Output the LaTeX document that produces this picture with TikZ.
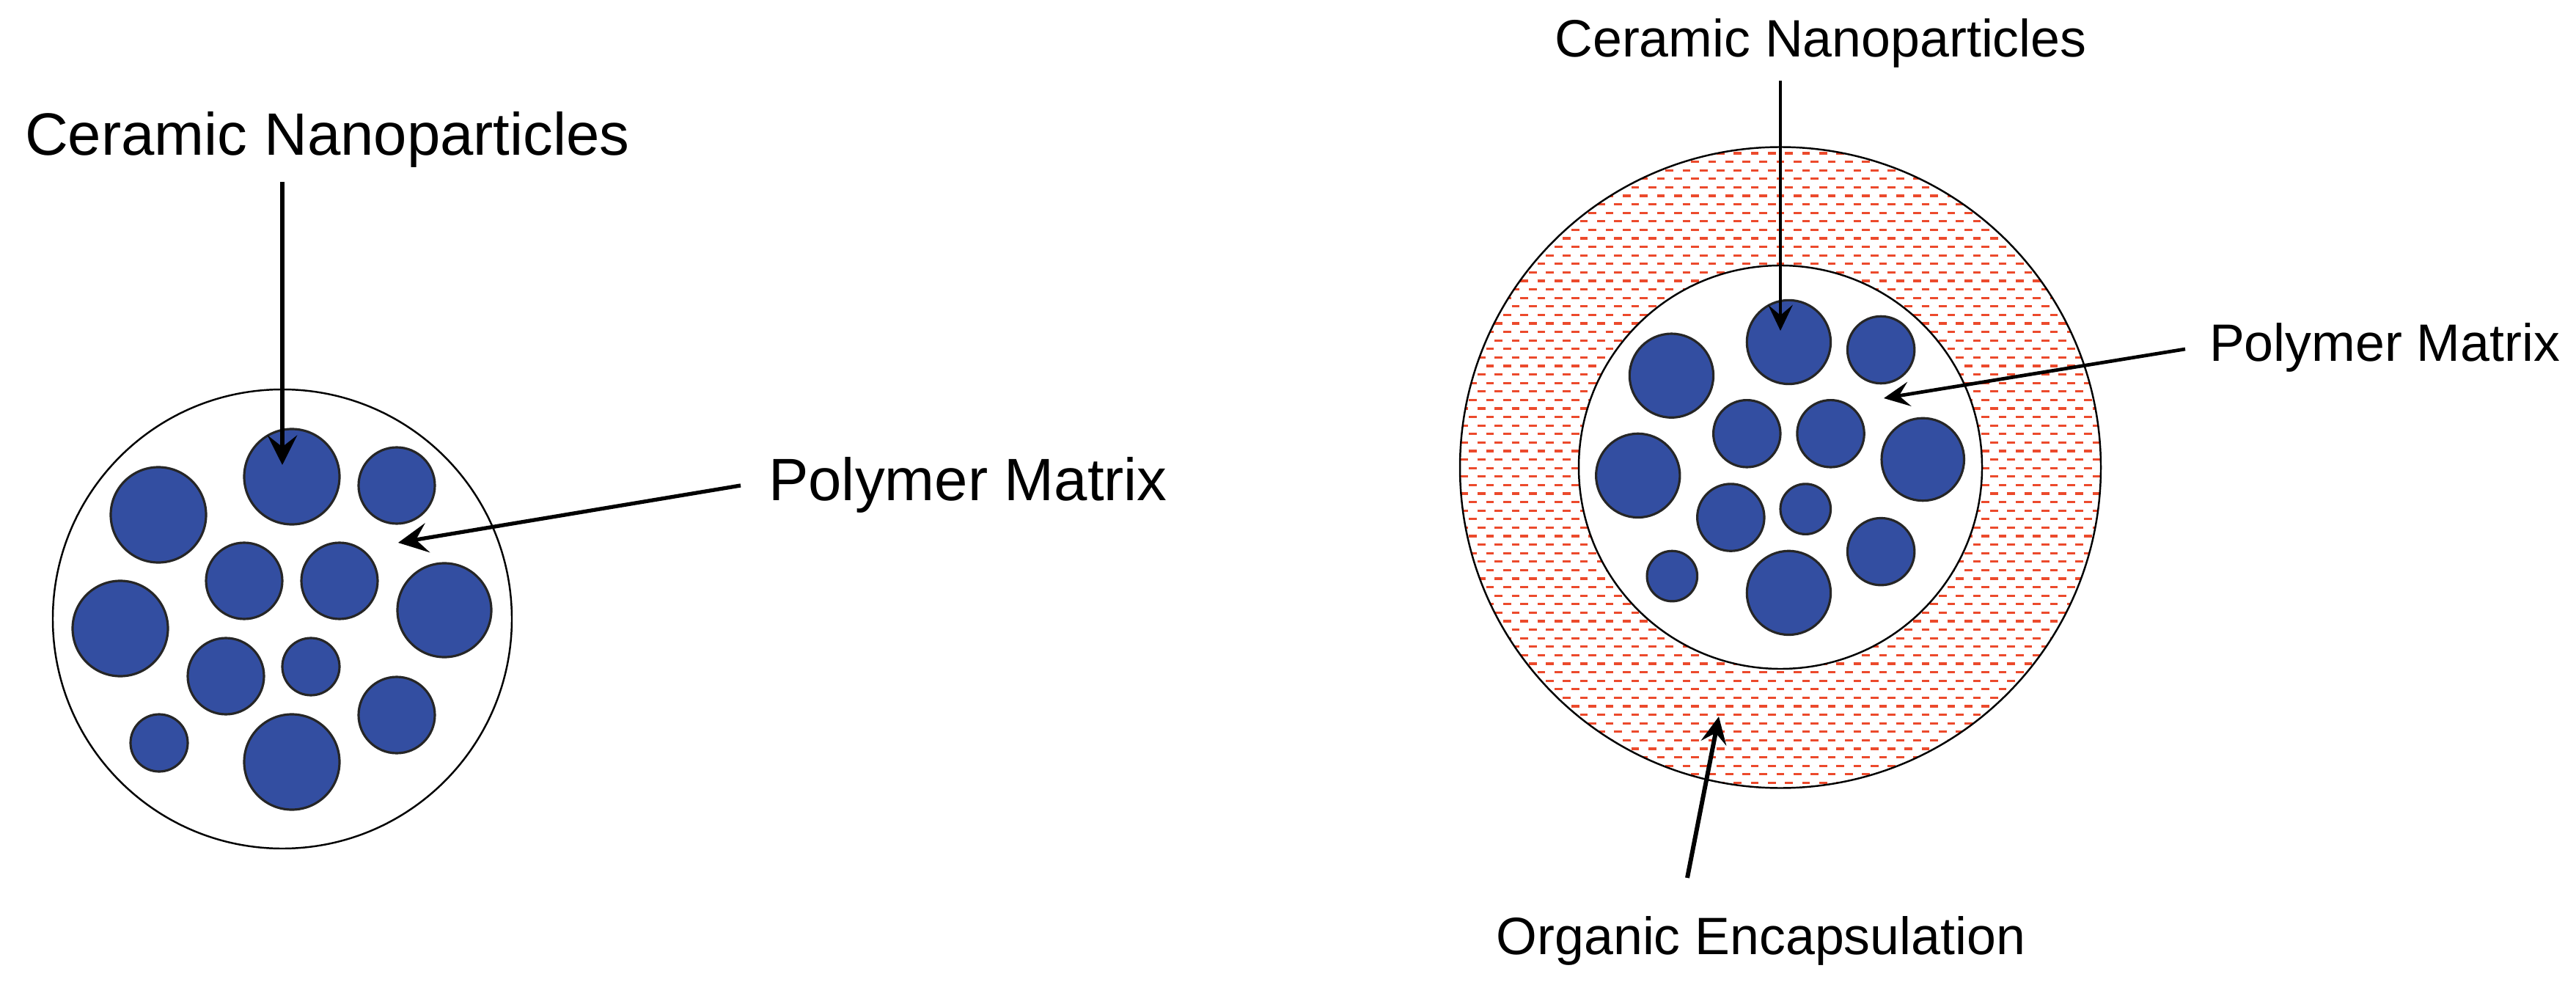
\documentclass[tikz,border=0pt]{standalone}
\usepackage{fontspec}
\setmainfont{Liberation Sans}
\usetikzlibrary{arrows.meta}
\definecolor{partblue}{RGB}{51,78,161}
\definecolor{hatchred}{RGB}{236,74,44}
\tikzset{
  particle/.style={fill=partblue, draw=black!85, line width=0.9pt},
  shell/.style={draw=black, line width=0.7pt},
  lblL/.style={font=\fontsize{23.2pt}{28pt}\selectfont, inner sep=0pt, anchor=base},
  lblR/.style={font=\fontsize{20.4pt}{24pt}\selectfont, inner sep=0pt, anchor=base},
  ptrL/.style={-{Stealth[length=11.5pt,width=11.5pt,inset=4.5pt]}, line width=1.5pt},
  ptrR/.style={-{Stealth[length=10pt,width=9.5pt,inset=4pt]}, line width=1.35pt},
  ptrO/.style={-{Stealth[length=10.5pt,width=10pt,inset=4pt]}, line width=1.7pt},
  hatchline/.style={draw=hatchred, line width=0.95pt, dash pattern=on 0.107cm off 0.126cm},
}
\newcommand\drawparticles{%
  \foreach \px/\py/\pr in {0.13/1.94/0.65, 1.56/1.82/0.52, -1.69/1.42/0.65,
      -0.52/0.52/0.52, 0.78/0.52/0.52, 2.21/0.12/0.64, -2.21/-0.13/0.65,
      -0.77/-0.78/0.52, 0.39/-0.65/0.39, 1.56/-1.31/0.52, -1.68/-1.69/0.39,
      0.13/-1.95/0.65}
    {\draw[particle] (\px,\py) circle (\pr);}%
}
\begin{document}
\begin{tikzpicture}
\useasboundingbox (0,0) rectangle (35.13,13.53);

% ---------------- Left: nanocomposite ----------------
\draw[shell, fill=white] (3.85,5.09) circle (3.13);
\begin{scope}[shift={(3.85,5.09)}]
  \drawparticles
\end{scope}

\node[lblL] (cerL) at (4.465,11.41) {Ceramic Nanoparticles};
\node[lblL] (polL) at (13.20,6.71) {Polymer Matrix};
\coordinate (cerLs) at (3.85,11.05);
\coordinate (cerLt) at (3.85,7.19);
\coordinate (polLs) at (10.10,6.91);
\coordinate (polLt) at (5.43,6.13);
\draw[ptrL] (cerLs) -- (cerLt);
\draw[ptrL] (polLs) -- (polLt);

% ---------------- Right: encapsulated ----------------
\begin{scope}
  \clip (24.28,7.155) circle (4.37);
  \foreach \i in {0,...,77}{
    \pgfmathsetmacro\yy{2.74+\i*0.116}
    \ifodd\i
      \draw[hatchline, dash phase=0.1165cm] (19.8,\yy) -- (28.8,\yy);
    \else
      \draw[hatchline] (19.8,\yy) -- (28.8,\yy);
    \fi
  }
\end{scope}
\draw[shell] (24.28,7.155) circle (4.37);
\draw[shell, fill=white] (24.28,7.16) circle (2.75);
\begin{scope}[shift={(24.28,7.16)}, scale=0.879]
  \drawparticles
\end{scope}

\node[lblR] (cerR) at (24.83,12.755) {Ceramic Nanoparticles};
\node[lblR] (polR) at (32.52,8.605) {Polymer Matrix};
\node[lblR] (orgR) at (24.015,0.52) {Organic Encapsulation};
\coordinate (cerRs) at (24.28,12.43);
\coordinate (cerRt) at (24.28,9.02);
\coordinate (polRs) at (29.80,8.77);
\coordinate (polRt) at (25.69,8.10);
\coordinate (orgRs) at (23.01,1.56);
\coordinate (orgRt) at (23.44,3.76);
\draw[ptrR] (cerRs) -- (cerRt);
\draw[ptrR] (polRs) -- (polRt);
\draw[ptrO] (orgRs) -- (orgRt);
\end{tikzpicture}
\end{document}
